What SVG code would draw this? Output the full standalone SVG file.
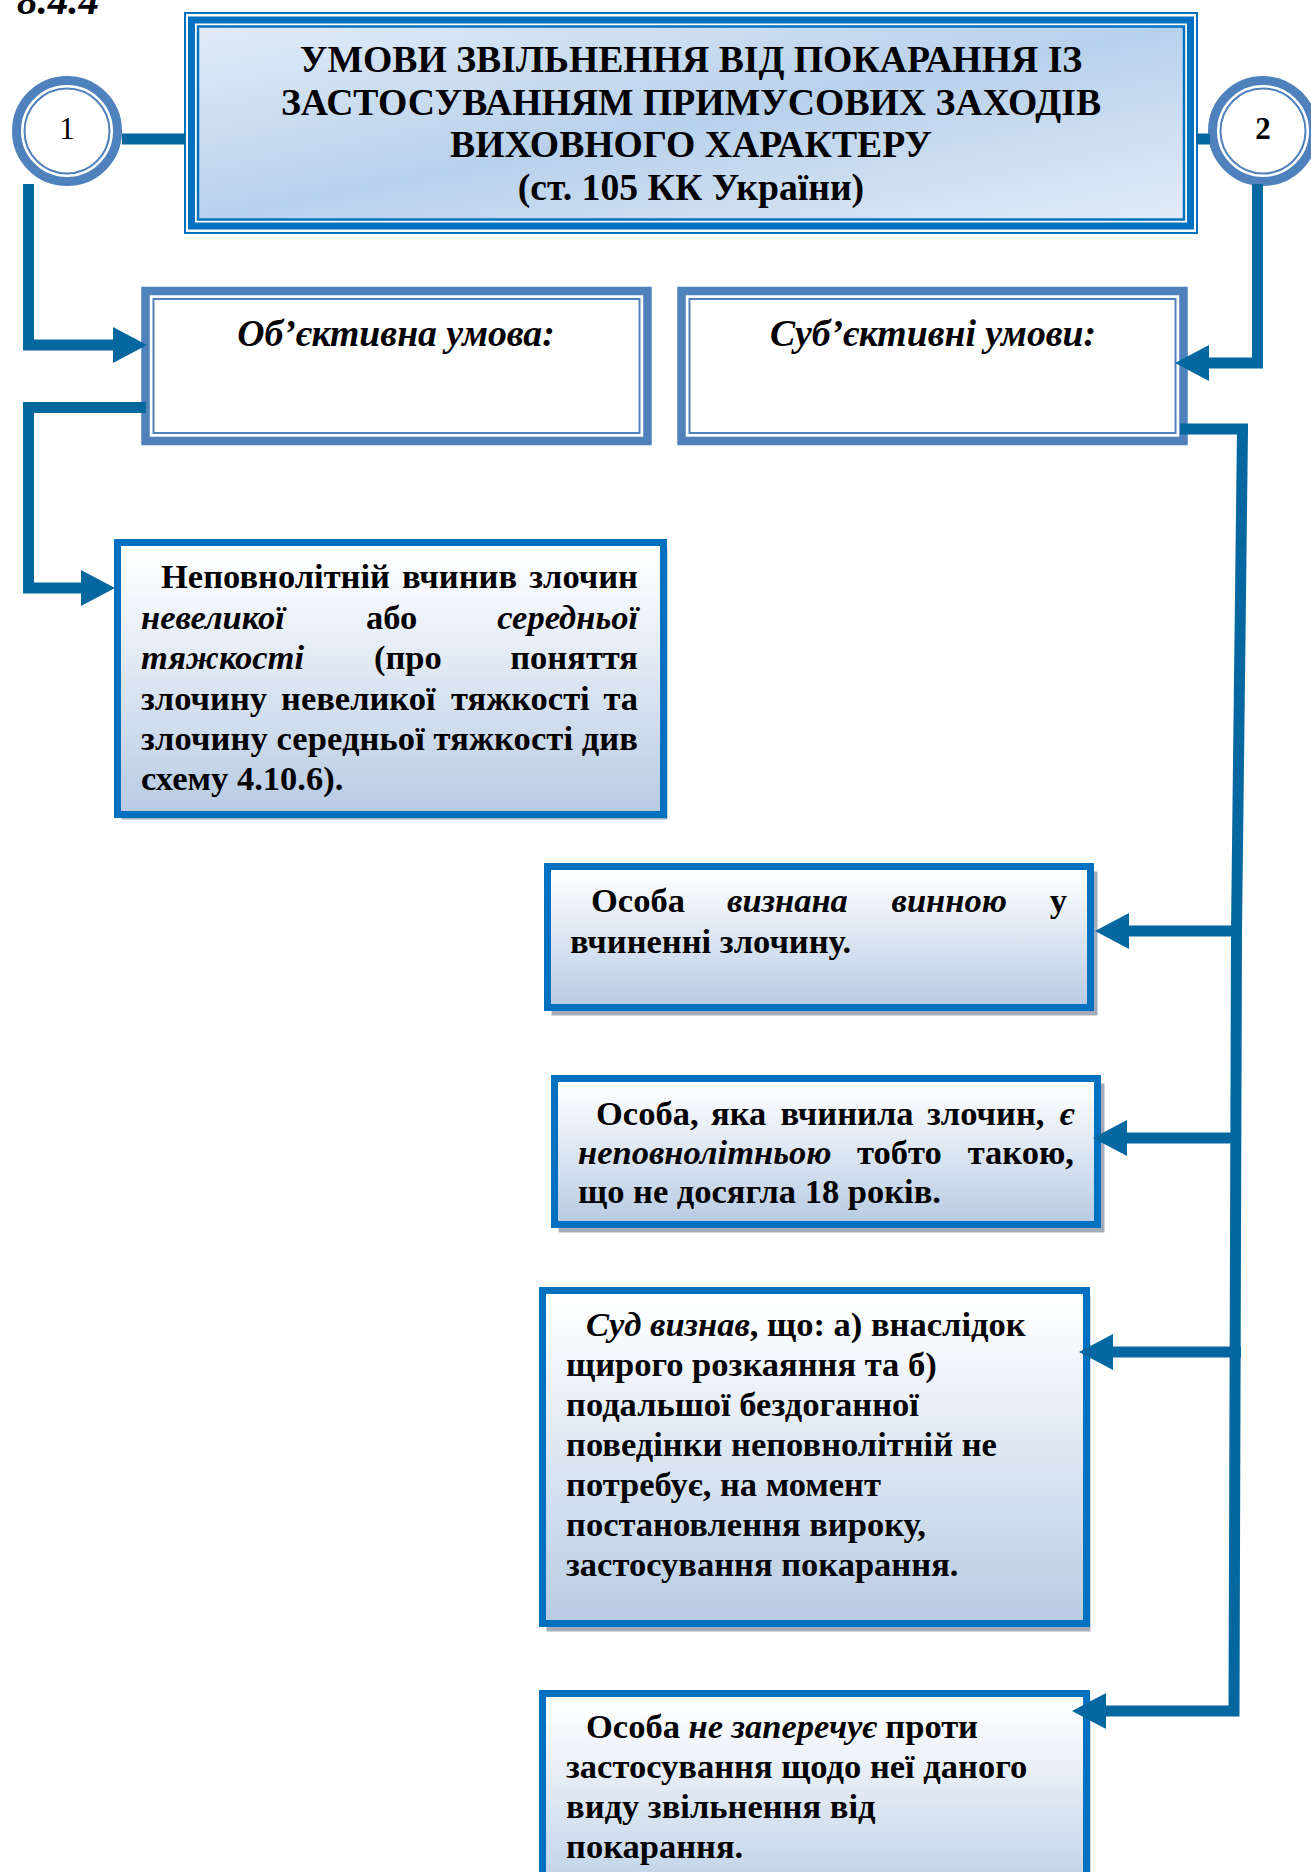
<svg xmlns="http://www.w3.org/2000/svg" xmlns:xlink="http://www.w3.org/1999/xlink" width="1311" height="1872" viewBox="0 0 1311 1872">
  <defs>
    <linearGradient id="gTitle" x1="0" y1="0" x2="1" y2="1">
      <stop offset="0" stop-color="#e2ecf7"/>
      <stop offset="0.5" stop-color="#b8d1eb"/>
      <stop offset="1" stop-color="#e2ecf7"/>
    </linearGradient>
    <linearGradient id="gBox" x1="0" y1="0" x2="0" y2="1">
      <stop offset="0" stop-color="#ffffff"/>
      <stop offset="0.12" stop-color="#f9fbfd"/>
      <stop offset="1" stop-color="#b7cbe3"/>
    </linearGradient>
    <polygon id="ahL" points="0,0 34,-18 34,18"/>
    <polygon id="ahR" points="0,0 -34,-18 -34,18"/>
    <style>
      .t { font-family: "Liberation Serif", "Times New Roman", serif; font-weight: bold; fill: #000; }
      .title { font-size: 37.7px; text-anchor: middle; }
      .lbl { font-size: 37.7px; font-style: italic; text-anchor: middle; }
      .body { font-size: 34.5px; }
      .i { font-style: italic; }
      .end { text-anchor: end; }
      .num { font-size: 31px; text-anchor: middle; }
      .dbl-out { fill: #ffffff; stroke: #4f81bd; stroke-width: 8.5; }
      .dbl-in { fill: none; stroke: #4f81bd; stroke-width: 2; }
      .solid { fill: url(#gBox); stroke: #0070c0; stroke-width: 7; }
      .shadow { fill: #a3acb9; }
      .ring { fill: #ffffff; stroke: #4f81bd; stroke-width: 9; }
      .ring-in { fill: none; stroke: #4f81bd; stroke-width: 2; }
      .conn { fill: none; stroke: #05679f; stroke-width: 11; stroke-linejoin: miter; }
      .ah { fill: #05679f; }
    </style>
  </defs>
  <rect width="1311" height="1872" fill="#ffffff"/>

  <text class="t i" x="17" y="14" font-size="41">8.4.4</text>

  <g id="title">
    <rect x="185" y="13" width="1012" height="220" fill="#ffffff" stroke="#0070c0" stroke-width="2"/>
    <rect x="191.5" y="20" width="999" height="206" fill="none" stroke="#0070c0" stroke-width="7"/>
    <rect x="198" y="26.5" width="986" height="193" fill="url(#gTitle)" stroke="#0070c0" stroke-width="2.5"/>
    <text class="t title" x="691" y="72">УМОВИ ЗВІЛЬНЕННЯ ВІД ПОКАРАННЯ ІЗ</text>
    <text class="t title" x="691" y="115">ЗАСТОСУВАННЯМ ПРИМУСОВИХ ЗАХОДІВ</text>
    <text class="t title" x="691" y="157">ВИХОВНОГО ХАРАКТЕРУ</text>
    <text class="t title" x="691" y="200">(ст. 105 КК України)</text>
  </g>

  <g id="circle1">
    <circle class="ring" cx="67" cy="131" r="50.5"/>
    <circle class="ring-in" cx="67" cy="131" r="42.5"/>
    <text class="t num" x="67" y="139" style="font-weight:normal">1</text>
  </g>

  <g id="circle2">
    <circle class="ring" cx="1263" cy="131" r="50.5"/>
    <circle class="ring-in" cx="1263" cy="131" r="42.5"/>
    <text class="t num" x="1263" y="139">2</text>
  </g>

  <g id="objective">
    <rect class="dbl-out" x="145.5" y="291" width="502" height="150"/>
    <rect class="dbl-in" x="153.5" y="299" width="486" height="134"/>
    <text class="t lbl" x="396" y="346">Об’єктивна умова:</text>
  </g>

  <g id="subjective">
    <rect class="dbl-out" x="681.5" y="291" width="502" height="150"/>
    <rect class="dbl-in" x="689.5" y="299" width="486" height="134"/>
    <text class="t lbl" x="933" y="346">Суб’єктивні умови:</text>
  </g>

  <g id="box-gravity">
    <rect class="shadow" x="121.5" y="547.5" width="546" height="272"/>
    <rect class="solid" x="117.5" y="542.5" width="546" height="272"/>
    <text class="t body" y="588"><tspan x="161">Неповнолітній</tspan><tspan x="402">вчинив</tspan></text>
    <text class="t body end" x="638" y="588">злочин</text>
    <text class="t body" y="628.5"><tspan x="141" class="i">невеликої</tspan><tspan x="366">або</tspan></text>
    <text class="t body i end" x="638" y="628.5">середньої</text>
    <text class="t body" y="669"><tspan x="141" class="i">тяжкості</tspan><tspan x="374">(про</tspan></text>
    <text class="t body end" x="638" y="669">поняття</text>
    <text class="t body" y="709.5"><tspan x="141">злочину</tspan><tspan x="281">невеликої</tspan><tspan x="451">тяжкості</tspan></text>
    <text class="t body end" x="638" y="709.5">та</text>
    <text class="t body" x="141" y="750" textLength="497" lengthAdjust="spacing">злочину середньої тяжкості див</text>
    <text class="t body" x="141" y="790">схему 4.10.6).</text>
  </g>

  <g id="box-guilty">
    <rect class="shadow" x="551.5" y="871.5" width="546" height="144"/>
    <rect class="solid" x="547.5" y="866.5" width="543" height="141"/>
    <text class="t body" y="912"><tspan x="591">Особа</tspan><tspan x="727" class="i">визнана</tspan><tspan x="891.5" class="i">винною</tspan></text>
    <text class="t body end" x="1067" y="912">у</text>
    <text class="t body" x="570" y="953">вчиненні злочину.</text>
  </g>

  <g id="box-minor">
    <rect class="shadow" x="558.5" y="1083.5" width="546" height="149"/>
    <rect class="solid" x="554.5" y="1078.5" width="543" height="146"/>
    <text class="t body" y="1125"><tspan x="596">Особа,</tspan><tspan x="711">яка</tspan><tspan x="780.5">вчинила</tspan><tspan x="927">злочин,</tspan></text>
    <text class="t body i end" x="1074" y="1125">є</text>
    <text class="t body" y="1164"><tspan x="578" class="i">неповнолітньою</tspan><tspan x="857">тобто</tspan></text>
    <text class="t body end" x="1074" y="1164">такою,</text>
    <text class="t body" x="578" y="1203">що не досягла 18 років.</text>
  </g>

  <g id="box-court">
    <rect class="shadow" x="546.5" y="1295.5" width="544" height="336"/>
    <rect class="solid" x="542.5" y="1290.5" width="544" height="333"/>
    <text class="t body" x="586" y="1336"><tspan class="i">Суд визнав</tspan>, що: а) внаслідок</text>
    <text class="t body" x="566" y="1376">щирого розкаяння та б)</text>
    <text class="t body" x="566" y="1416">подальшої бездоганної</text>
    <text class="t body" x="566" y="1456">поведінки неповнолітній не</text>
    <text class="t body" x="566" y="1496">потребує, на момент</text>
    <text class="t body" x="566" y="1536">постановлення вироку,</text>
    <text class="t body" x="566" y="1576">застосування покарання.</text>
  </g>

  <g id="box-consent">
    <rect class="shadow" x="546.5" y="1698.5" width="544" height="220"/>
    <rect class="solid" x="542.5" y="1693.5" width="544" height="220"/>
    <text class="t body" x="586" y="1738">Особа <tspan class="i">не заперечує</tspan> проти</text>
    <text class="t body" x="566" y="1778">застосування щодо неї даного</text>
    <text class="t body" x="566" y="1818">виду звільнення від</text>
    <text class="t body" x="566" y="1858">покарання.</text>
  </g>

  <g id="connectors">
    <path class="conn" d="M122,139 H186" stroke-width="12"/>
    <path class="conn" d="M1196,139 H1210" stroke-width="12"/>
    <path class="conn" d="M28.5,184 V345 H116"/>
    <use href="#ahR" class="ah" x="147" y="345"/>
    <path class="conn" d="M146,407.5 H28.5 V588 H84"/>
    <use href="#ahR" class="ah" x="115" y="588"/>
    <path class="conn" d="M1257.5,184 V363 H1206"/>
    <use href="#ahL" class="ah" x="1175" y="363"/>
    <path class="conn" d="M1180,429 H1242.5 L1236.5,930 L1234,1711 H1102"/>
    <use href="#ahL" class="ah" x="1072" y="1711"/>
    <path class="conn" d="M1238,931 H1125"/>
    <use href="#ahL" class="ah" x="1095" y="931"/>
    <path class="conn" d="M1237,1138 H1123"/>
    <use href="#ahL" class="ah" x="1093" y="1138"/>
    <path class="conn" d="M1241,1352 H1109"/>
    <use href="#ahL" class="ah" x="1079" y="1352"/>
  </g>
</svg>
